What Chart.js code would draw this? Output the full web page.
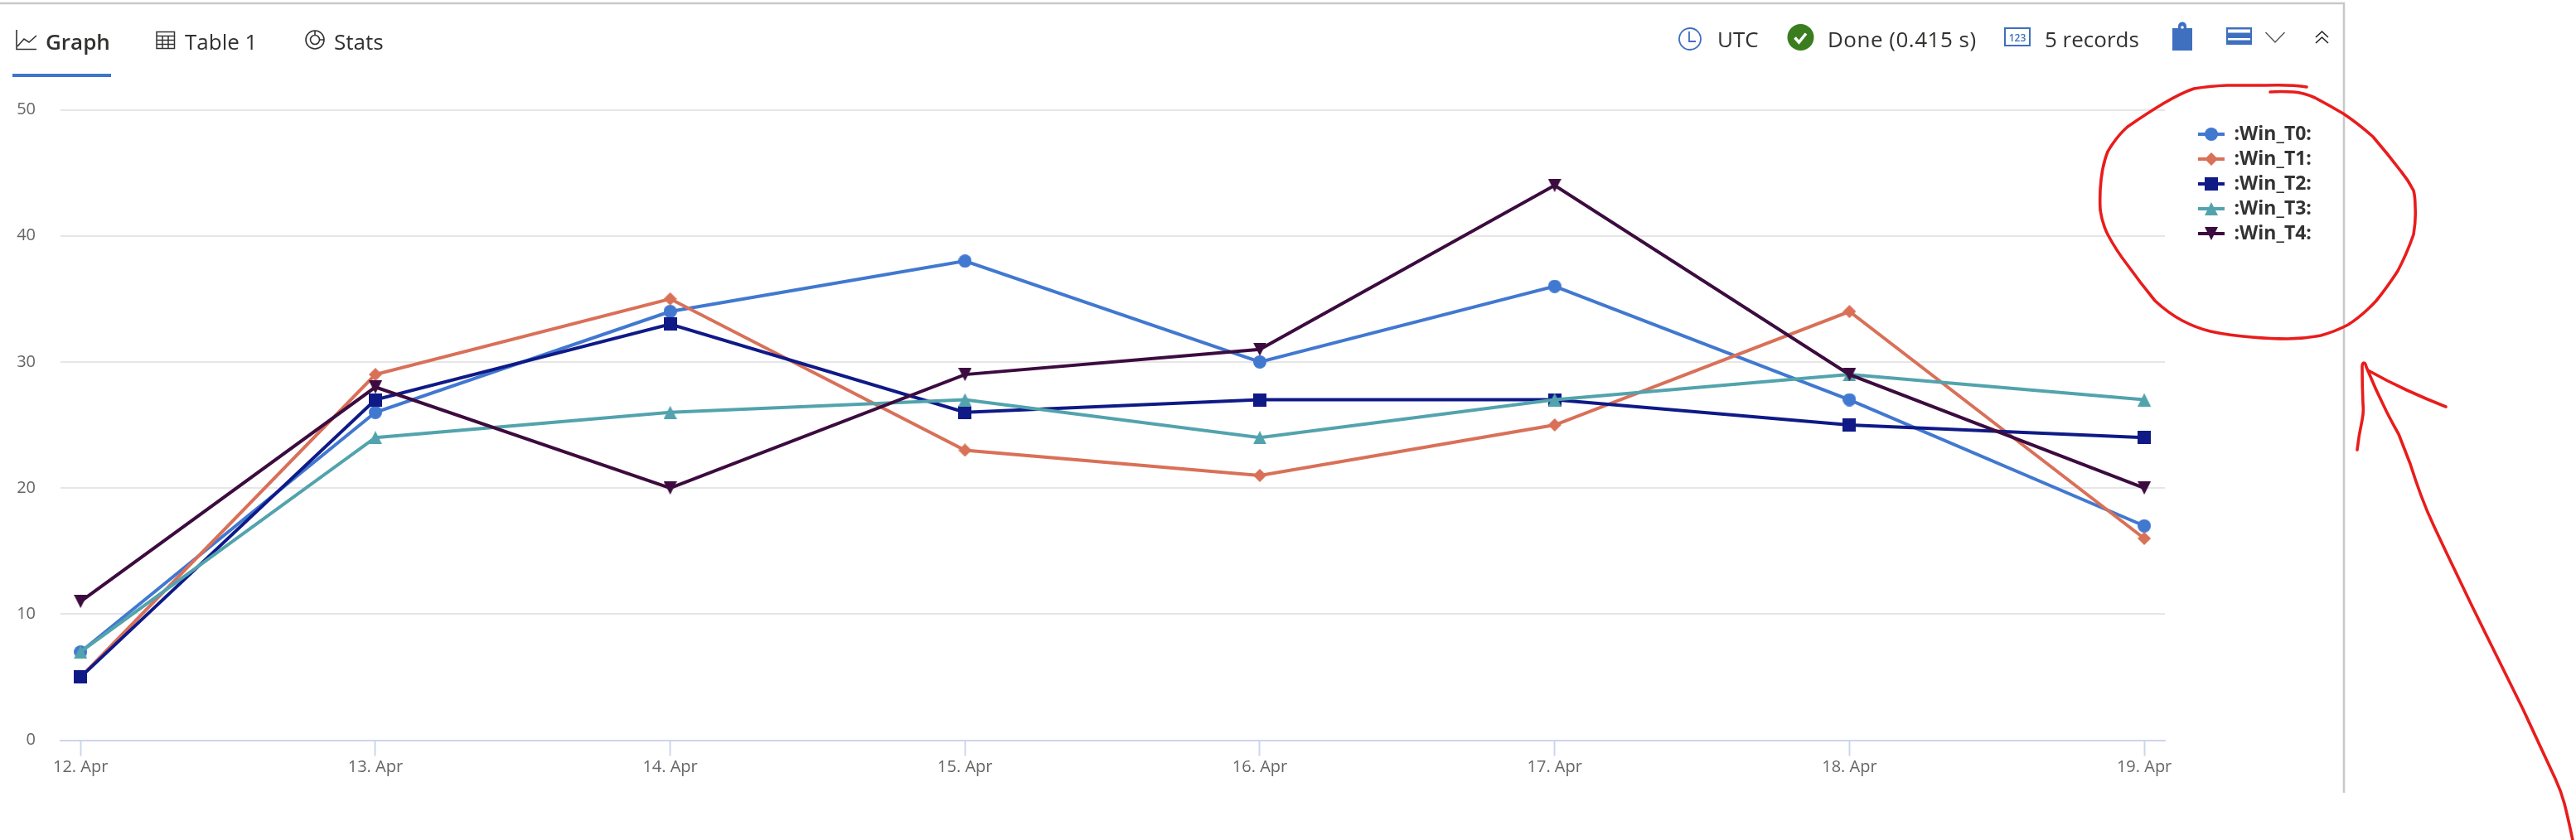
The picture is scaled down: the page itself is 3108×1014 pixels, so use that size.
<!DOCTYPE html>
<html>
<head>
<meta charset="utf-8">
<script src="https://cdn.jsdelivr.net/npm/chart.js@4"></script>
<style>
html,body{margin:0;padding:0;background:#fff;width:3108px;height:1014px;overflow:hidden}
#c{position:absolute;left:0;top:0}
#o{position:absolute;left:0;top:0;pointer-events:none}
.t{position:absolute;font-family:"Open Sans",sans-serif;color:#323130;white-space:nowrap;line-height:36px;height:36px}
</style>
</head>
<body>
<canvas id="c" width="3108" height="1014"></canvas>
<span class="t" style="left:55px;top:32px;font-size:26px;font-weight:600">Graph</span>
<span class="t" style="left:223px;top:32px;font-size:26px">Table 1</span>
<span class="t" style="left:403px;top:32px;font-size:26px">Stats</span>
<span class="t" style="left:2072px;top:29px;font-size:26px">UTC</span>
<span class="t" style="left:2205px;top:29px;font-size:26px;letter-spacing:.5px">Done (0.415 s)</span>
<span class="t" style="left:2467px;top:29px;font-size:26px">5 records</span>
<svg id="o" width="3108" height="1014" viewBox="0 0 3108 1014" fill="none">
  <path d="M0 4H2828V957" stroke="#c8c8c8" stroke-width="2.5"/>
  <rect x="15" y="89" width="119" height="4" fill="#3f76cb"/>
  <path d="M20 36V59.5H44" stroke="#333" stroke-width="1.6"/>
  <path d="M21 56L29 47L35 51L44 43" stroke="#333" stroke-width="1.6"/>
  <path d="M189 38.5H210.5V58.5H189ZM189 43.5H210.5M189 48.5H210.5M189 53.5H210.5M196 43.5V58.5M203 43.5V58.5" stroke="#333" stroke-width="1.5"/>
  <circle cx="380" cy="48" r="11" stroke="#333" stroke-width="1.6"/>
  <circle cx="380" cy="48" r="5.5" stroke="#333" stroke-width="1.6"/>
  <path d="M380 37V42.5M391 48H385.5" stroke="#333" stroke-width="1.6"/>
  <circle cx="2039" cy="47" r="13" stroke="#3f6fbf" stroke-width="1.8"/>
  <path d="M2038 38V50H2046" stroke="#3f6fbf" stroke-width="1.8"/>
  <circle cx="2172.5" cy="45" r="16" fill="#3a7d1e"/>
  <path d="M2165.5 45.5L2170.5 51L2179 40.5" stroke="#fff" stroke-width="3.5"/>
  <rect x="2419" y="34" width="30" height="21" stroke="#3f6fbf" stroke-width="2"/>
  <text x="2434" y="50" text-anchor="middle" font-family="Open Sans" font-size="12" font-weight="600" fill="#3f6fbf">123</text>
  <path d="M2621 34H2628V31.5A5 5 0 0 1 2638 31.5V34H2645V61H2621Z" fill="#3f6fbf"/>
  <circle cx="2633" cy="33" r="1.8" fill="#fff"/>
  <rect x="2686" y="33" width="31" height="21" fill="#3f6fbf"/>
  <rect x="2688" y="35.5" width="27" height="4" fill="#fff"/>
  <rect x="2688" y="46" width="27" height="2.5" fill="#fff"/>
  <path d="M2733.5 39L2745 51L2756.5 39" stroke="#555" stroke-width="1.4"/>
  <path d="M2794 45L2801.5 38L2809 45M2794 52L2801.5 45L2809 52" stroke="#222" stroke-width="1.6"/>
  <g stroke="#e91c1c" stroke-width="3.6" stroke-linecap="round" stroke-linejoin="round">
    <path d="M2783 105C2765 102 2733 103 2733 103C2710 103 2687 103 2687 103C2665 104 2647 107 2647 107C2632 112 2610 125 2610 125C2590 137 2567 153 2567 153C2553 165 2543 183 2543 183C2537 198 2535 217 2535 217C2533 235 2534 253 2534 253C2536 270 2543 283 2543 283C2553 302 2567 320 2567 320C2582 341 2600 363 2600 363C2616 378 2633 387 2633 387C2650 396 2667 400 2667 400C2690 405 2717 407 2717 407C2740 409 2760 409 2760 409C2780 409 2800 405 2800 405C2818 400 2833 392 2833 392C2852 380 2867 363 2867 363C2880 347 2893 327 2893 327C2904 306 2912 283 2912 283C2915 266 2914 250 2914 250C2914 238 2912 230 2912 230C2906 218 2897 207 2897 207C2881 186 2863 165 2863 165C2845 149 2827 137 2827 137C2810 127 2793 118 2793 118C2780 112 2767 111 2767 111C2752 110 2739 111 2739 111"/>
    <path d="M2844 543C2846 525 2850 507 2850 507C2852 497 2851 488 2851 488C2850 465 2850 443 2850 443C2850 438 2852 438 2852 438C2854 438 2855 443 2855 443C2866 470 2879 496 2879 496C2886 510 2894 524 2894 524C2901 542 2908 560 2908 560C2914 579 2921 598 2921 598C2928 617 2937 636 2937 636C2951 666 2966 697 2966 697C2983 733 3001 769 3001 769L3044 856L3083 940C3090 955 3094 970 3094 970C3099 990 3104 1014 3104 1014"/>
    <path d="M2857 447C2880 460 2904 471 2904 471C2928 482 2951 491 2951 491"/>
  </g>
</svg>
<script>
const categories = ["12. Apr","13. Apr","14. Apr","15. Apr","16. Apr","17. Apr","18. Apr","19. Apr"];
const seriesNames = [":Win_T0:",":Win_T1:",":Win_T2:",":Win_T3:",":Win_T4:"];
const winT0 = [7,26,34,38,30,36,27,17];
const winT1 = [5,29,35,23,21,25,34,16];
const winT2 = [5,27,33,26,27,27,25,24];
const winT3 = [7,24,26,27,24,27,29,27];
const winT4 = [11,28,20,29,31,44,29,20];
const yTicks = [0,10,20,30,40,50];
const seriesColors = ["#4178d0","#d97058","#0f1a87","#52a3ad","#3c0b3f"];
const seriesValues = [winT0,winT1,winT2,winT3,winT4];
const shapes = ["circle","diamond","square","up","down"];

function trace(g,shape,cx,cy){
  g.beginPath();
  if(shape==="circle"){g.arc(cx,cy,8,0,Math.PI*2);}
  if(shape==="diamond"){g.moveTo(cx,cy-8);g.lineTo(cx+8,cy);g.lineTo(cx,cy+8);g.lineTo(cx-8,cy);}
  if(shape==="square"){g.rect(cx-8,cy-8,16,16);}
  if(shape==="up"){g.moveTo(cx,cy-8);g.lineTo(cx+8,cy+8);g.lineTo(cx-8,cy+8);}
  if(shape==="down"){g.moveTo(cx,cy+8);g.lineTo(cx+8,cy-8);g.lineTo(cx-8,cy-8);}
  g.closePath();
}
function marker(shape,color){
  const k=document.createElement('canvas');k.width=16;k.height=16;
  const g=k.getContext('2d');g.fillStyle=color;trace(g,shape,8,8);g.fill();return k;
}
function swatch(shape,color){
  const k=document.createElement('canvas');k.width=32;k.height=18;
  const g=k.getContext('2d');g.fillStyle=color;g.fillRect(0,7,32,4);trace(g,shape,16,9);g.fill();return k;
}
const swatches = shapes.map((s,i)=>swatch(s,seriesColors[i]));

const placeLegend = {
  id:'placeLegend',
  afterLayout(chart){
    const l=chart.legend,w=l.width,h=l.height;
    l.left=2645;l.top=143.5;l.right=l.left+w;l.bottom=l.top+h;
  }
};

new Chart(document.getElementById('c'),{
  type:'line',
  data:{
    datasets:seriesNames.map((name,i)=>({
      label:name,
      data:seriesValues[i].map((v,j)=>({x:j,y:v})),
      borderColor:seriesColors[i],
      backgroundColor:seriesColors[i],
      borderWidth:4,
      tension:0,
      fill:false,
      order:seriesNames.length-i,
      pointStyle:marker(shapes[i],seriesColors[i]),
      pointRadius:8,
      pointHoverRadius:8
    }))
  },
  options:{
    responsive:false,
    animation:false,
    devicePixelRatio:1,
    layout:{padding:{left:0,top:132.5,right:346,bottom:60.5}},
    scales:{
      x:{
        type:'linear',
        min:-0.068,
        max:7.07,
        afterBuildTicks(a){a.ticks=categories.map((c,i)=>({value:i}));},
        afterFit(a){a.height=60;},
        border:{color:'#ccd6eb',width:2},
        grid:{drawOnChartArea:false,drawTicks:true,tickLength:19,tickColor:'#ccd6eb',tickWidth:2},
        ticks:{
          autoSkip:false,maxRotation:0,padding:2,color:'#666',
          font:{family:'"Open Sans"',size:20},
          callback(v){return categories[v];}
        }
      },
      y:{
        min:0,max:50,
        afterBuildTicks(a){a.ticks=yTicks.map(v=>({value:v}));},
        afterFit(a){a.width=73;},
        border:{display:false},
        grid:{color:'#e6e6e6',lineWidth:2,drawTicks:false},
        ticks:{padding:30,color:'#666',font:{family:'"Open Sans"',size:20}}
      }
    },
    plugins:{
      tooltip:{enabled:false},
      title:{display:false},
      legend:{
        position:'right',
        align:'start',
        maxWidth:150,
        labels:{
          usePointStyle:true,
          pointStyleWidth:32,
          padding:7,
          color:'#333',
          font:{family:'"Open Sans"',size:23,weight:'bold'},
          generateLabels(chart){
            return chart.data.datasets.map((d,i)=>({
              text:d.label,fontColor:'#333',datasetIndex:i,
              pointStyle:swatches[i],lineWidth:0,hidden:false
            }));
          }
        }
      }
    }
  },
  plugins:[placeLegend]
});
</script>
</body>
</html>
